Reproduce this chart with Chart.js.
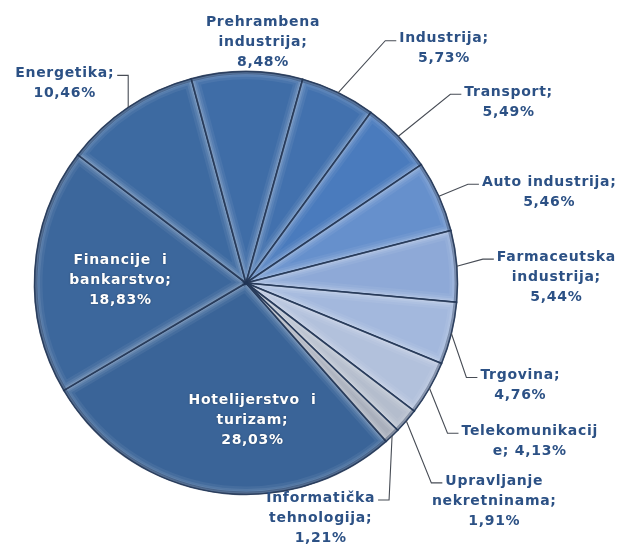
<!DOCTYPE html>
<html><head><meta charset="utf-8">
<script src="https://cdn.jsdelivr.net/npm/chart.js@4"></script>
<style>html,body{margin:0;padding:0;background:#fff}#wrap{width:627px;height:552px;position:relative}</style>
</head><body><div id="wrap"><canvas id="c" width="627" height="552"></canvas></div>
<script>
// ---- data ----
const categories = ['Hotelijerstvo i turizam', 'Financije i bankarstvo', 'Energetika', 'Prehrambena industrija',
  'Industrija', 'Transport', 'Auto industrija', 'Farmaceutska industrija', 'Trgovina',
  'Telekomunikacije', 'Upravljanje nekretninama', 'Informatička tehnologija'];
const values = [28.03, 18.83, 10.46, 8.48, 5.73, 5.49, 5.46, 5.44, 4.76, 4.13, 1.91, 1.21];
// label name lines as wrapped in the picture (value appended from values)
const nameLines = [
  ['Hotelijerstvo  i', 'turizam;'],
  ['Financije  i', 'bankarstvo;'],
  ['Energetika;'],
  ['Prehrambena', 'industrija;'],
  ['Industrija;'],
  ['Transport;'],
  ['Auto industrija;'],
  ['Farmaceutska', 'industrija;'],
  ['Trgovina;'],
  ['Telekomunikacij', 'e; '],
  ['Upravljanje', 'nekretninama;'],
  ['Informatička', 'tehnologija;']
];
// ---- styles / layout (not data) ----
const sliceColors = ['#3A6498', '#3C679C', '#3D6AA1', '#3F6DA7', '#4271AE', '#4A7BBD', '#6690CC',
  '#8EA9D7', '#A3B8DD', '#B2C1DC', '#B4BDCD', '#A4ABB8'];
const labelLayout = [
  {mode: 'inside', dx: 23, dy: 33},
  {mode: 'inside', dx: -20, dy: 4},
  {mode: 'leader', ex: 0, ey: -32, side: -1},
  {mode: 'plain', dx: 16, dy: -29},
  {mode: 'leader', ex: 47, ey: -52, side: 1},
  {mode: 'leader', ex: 52, ey: -42, side: 1},
  {mode: 'leader', ex: 29, ey: -12, side: 1},
  {mode: 'leader', ex: 26, ey: -7, side: 1},
  {mode: 'leader', ex: 15, ey: 44, side: 1},
  {mode: 'leader', ex: 18, ey: 45, side: 1},
  {mode: 'leader', ex: 25, ey: 62, side: 1},
  {mode: 'leader', ex: -3, ey: 64, side: -1}
];
const FONT = 'bold 14px "DejaVu Sans"';
const LINE_H = 20;
const TEXT_COLOR = '#2C5185';

function fmt(v) { return v.toFixed(2).replace('.', ',') + '%'; }
function linesFor(i) {
  const n = nameLines[i].slice();
  const last = n[n.length - 1];
  if (last.endsWith(' ')) { n[n.length - 1] = last + fmt(values[i]); return n; }
  return n.concat([fmt(values[i])]);
}

function slicePath(ctx, x, y, r, a0, a1) {
  ctx.beginPath();
  ctx.moveTo(x, y);
  ctx.arc(x, y, r, a0, a1);
  ctx.closePath();
}

const bevelPlugin = {
  id: 'bevel',
  afterDatasetsDraw(chart) {
    const ctx = chart.ctx;
    const meta = chart.getDatasetMeta(0);
    meta.data.forEach((arc, i) => {
      const {x, y, startAngle, endAngle, outerRadius} = arc.getProps(['x', 'y', 'startAngle', 'endAngle', 'outerRadius'], true);
      ctx.save();
      slicePath(ctx, x, y, outerRadius, startAngle, endAngle);
      ctx.clip();
      ctx.lineJoin = 'round';
      [[16, 0.06], [11, 0.08], [7, 0.10], [4, 0.12]].forEach(([w, a]) => {
        slicePath(ctx, x, y, outerRadius, startAngle, endAngle);
        ctx.strokeStyle = 'rgba(255,255,255,' + a + ')';
        ctx.lineWidth = w;
        ctx.stroke();
      });
      // darker rim along outer arc
      ctx.beginPath();
      ctx.arc(x, y, outerRadius, startAngle, endAngle);
      ctx.strokeStyle = 'rgba(20,40,75,0.35)';
      ctx.lineWidth = 6;
      ctx.stroke();
      ctx.restore();
      ctx.save();
      slicePath(ctx, x, y, outerRadius, startAngle, endAngle);
      ctx.strokeStyle = 'rgba(32,52,85,0.8)';
      ctx.lineWidth = 1.6;
      ctx.stroke();
      ctx.restore();
    });
  },
  afterDraw(chart) {
    const ctx = chart.ctx;
    const meta = chart.getDatasetMeta(0);
    ctx.save();
    ctx.font = FONT;
    if ('letterSpacing' in ctx) ctx.letterSpacing = '0.7px';
    ctx.textBaseline = 'middle';
    meta.data.forEach((arc, i) => {
      const {x, y, startAngle, endAngle, outerRadius} = arc.getProps(['x', 'y', 'startAngle', 'endAngle', 'outerRadius'], true);
      const mid = (startAngle + endAngle) / 2;
      const ex = x + outerRadius * Math.cos(mid);
      const ey = y + outerRadius * Math.sin(mid);
      const lines = linesFor(i);
      const L = labelLayout[i];
      ctx.textAlign = 'center';
      if (L.mode === 'inside') {
        const c = arc.getCenterPoint();
        const cx = c.x + L.dx, cy = c.y + L.dy;
        ctx.fillStyle = '#FFFFFF';
        ctx.shadowColor = 'rgba(0,0,0,0.35)';
        ctx.shadowBlur = 2;
        lines.forEach((t, k) => ctx.fillText(t, cx, cy + (k - (lines.length - 1) / 2) * LINE_H));
        ctx.shadowColor = 'transparent';
        ctx.shadowBlur = 0;
      } else if (L.mode === 'plain') {
        const cx = ex + L.dx, cy = ey + L.dy;
        ctx.fillStyle = TEXT_COLOR;
        lines.forEach((t, k) => ctx.fillText(t, cx, cy + (k - (lines.length - 1) / 2) * LINE_H));
      } else {
        const bx = ex + L.ex, by = ey + L.ey;
        const endX = bx + L.side * 11;
        ctx.beginPath();
        ctx.moveTo(ex, ey);
        ctx.lineTo(bx, by);
        ctx.lineTo(endX, by);
        ctx.strokeStyle = '#474C55';
        ctx.lineWidth = 1.1;
        ctx.stroke();
        const w0 = ctx.measureText(lines[0]).width;
        const cx = L.side > 0 ? endX + 3 + w0 / 2 : endX - 3 - w0 / 2;
        const cy = by - 2;
        ctx.fillStyle = TEXT_COLOR;
        lines.forEach((t, k) => ctx.fillText(t, cx, cy + k * LINE_H));
      }
    });
    ctx.restore();
  }
};

new Chart(document.getElementById('c'), {
  type: 'pie',
  data: {
    labels: categories,
    datasets: [{
      data: values,
      backgroundColor: sliceColors,
      borderColor: 'rgba(32,52,85,0.8)',
      borderWidth: 1
    }]
  },
  options: {
    responsive: false,
    animation: false,
    rotation: 138.5,
    layout: {padding: {left: 34, right: 169, top: 71, bottom: 57}},
    plugins: {legend: {display: false}, tooltip: {enabled: false}}
  },
  plugins: [bevelPlugin]
});
</script>
</body></html>
